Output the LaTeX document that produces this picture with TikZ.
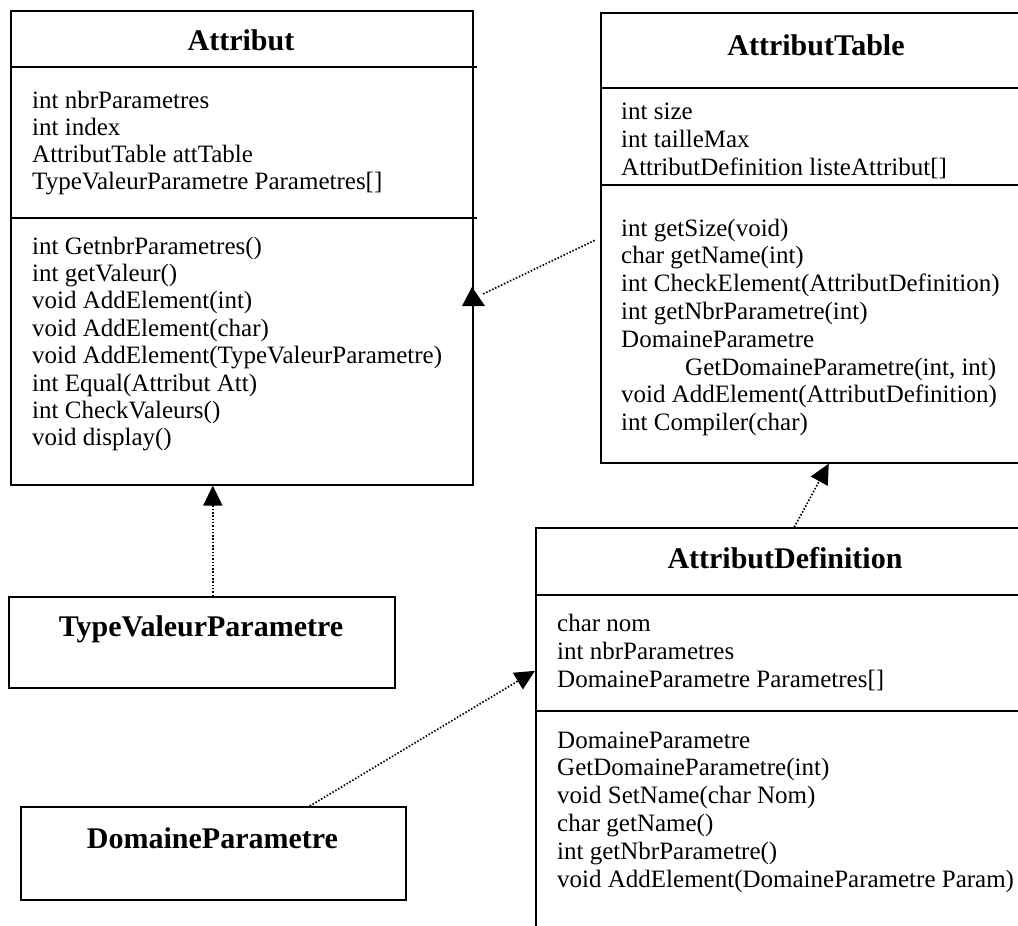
\documentclass[tikz,border=0pt]{standalone}
\usepackage{fontspec}
\setmainfont{Liberation Serif}
\usetikzlibrary{arrows.meta}

% a left-aligned column of class members, its baseline on the first line
\newcommand\memberlist[2]{\fontsize{25}{#1}\selectfont\begin{tabular}[t]{@{}l@{}}#2\end{tabular}}

\tikzset{
  classbox/.style={draw, line width=1.6pt, inner sep=0pt, anchor=north west},
  rule/.style={line width=1.6pt},
  classtitle/.style={font=\fontsize{30}{34}\selectfont\bfseries, inner sep=0pt, anchor=base},
  members/.style={inner sep=0pt, anchor=base west},
  dep/.style={line width=1.7pt, dash pattern=on 1.5pt off 1.8pt},
  head/.style={-{Triangle[length=20pt,width=19pt]}}
}

\begin{document}
\begin{tikzpicture}[x=1pt,y=-1pt]
\useasboundingbox (0,0) rectangle (1018,926);
\clip (0,0) rectangle (1018,926);

% ---- Attribut ----
\node[classbox, minimum width=462pt, minimum height=474pt] (attr) at (10,10) {};
\draw[rule] (10,67) -- (477,67);
\draw[rule] (10,218) -- (477,218);
\node[classtitle] (attrT) at (241,50) {Attribut};
\node[members] (attrF) at (32,108) {\memberlist{27}{int nbrParametres\\int index\\AttributTable attTable\\TypeValeurParametre Parametres[]}};
\node[members] (attrM) at (32,254) {\memberlist{27.4}{int GetnbrParametres()\\int getValeur()\\void AddElement(int)\\void AddElement(char)\\void AddElement(TypeValeurParametre)\\int Equal(Attribut Att)\\int CheckValeurs()\\void display()}};

% ---- AttributTable ----
\node[classbox, minimum width=432pt, minimum height=450pt] (tbl) at (600,12) {};
\draw[rule] (600,88) -- (1032,88);
\draw[rule] (600,185) -- (1032,185);
\node[classtitle] (tblT) at (816,55) {AttributTable};
\node[members] (tblF) at (621,119) {\memberlist{28}{int size\\int tailleMax\\AttributDefinition listeAttribut[]}};
\node[members] (tblM) at (621,236) {\memberlist{27.8}{int getSize(void)\\char getName(int)\\int CheckElement(AttributDefinition)\\int getNbrParametre(int)\\DomaineParametre\\\hspace*{64pt}GetDomaineParametre(int, int)\\void AddElement(AttributDefinition)\\int Compiler(char)}};

% ---- AttributDefinition ----
\node[classbox, minimum width=500pt, minimum height=420pt] (def) at (535,527) {};
\draw[rule] (535,595) -- (1035,595);
\draw[rule] (535,711) -- (1035,711);
\node[classtitle] (defT) at (785,568) {AttributDefinition};
\node[members] (defF) at (557,631) {\memberlist{28}{char nom\\int nbrParametres\\DomaineParametre Parametres[]}};
\node[members] (defM) at (557,748) {\memberlist{27.8}{DomaineParametre\\GetDomaineParametre(int)\\void SetName(char Nom)\\char getName()\\int getNbrParametre()\\void AddElement(DomaineParametre Param)}};

% ---- TypeValeurParametre ----
\node[classbox, minimum width=386pt, minimum height=91pt] (tv) at (8,596) {};
\node[classtitle] (tvT) at (201,636) {TypeValeurParametre};

% ---- DomaineParametre ----
\node[classbox, minimum width=385pt, minimum height=93pt] (dom) at (20,806) {};
\node[classtitle] (domT) at (212.5,848) {DomaineParametre};

% ---- dependencies ----
\coordinate (tip1) at (472,287);
\coordinate (end1) at (483,294);
\draw[dep, shorten <=6pt] (tbl.west) -- (end1);
\fill (tip1) -- ++(-10,19) -- ++(23,0) -- cycle;

\draw[dep, head] ([xshift=11pt]tv.north) -- ([xshift=11pt]tv.north |- attr.south);
\draw[dep, head] ([xshift=8.5pt]def.north) -- ([xshift=12pt]tbl.south);
\draw[dep, head] ([xshift=96.5pt]dom.north) -- ([yshift=67pt]def.west);
\end{tikzpicture}
\end{document}
